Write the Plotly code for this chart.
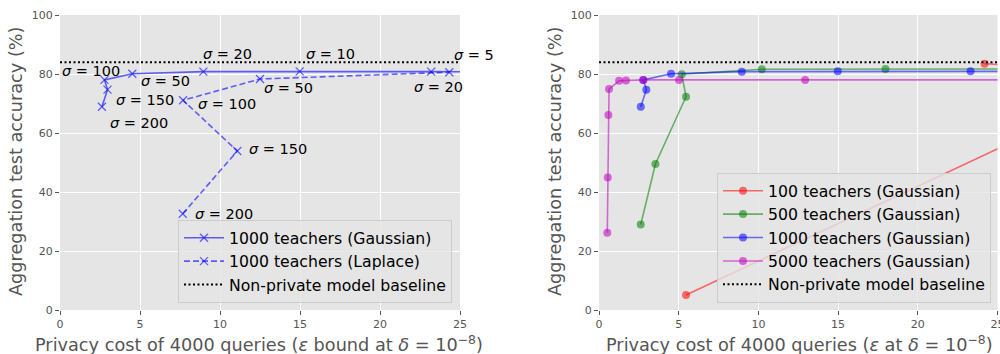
import plotly.graph_objects as go

# ---------------- data ----------------
# Left panel: 1000 teachers, Gaussian vs Laplace
gauss_eps = [2.62, 2.97, 2.78, 4.52, 8.96, 14.98, 23.2, 30.0]
gauss_acc = [68.9, 74.7, 78.0, 80.1, 80.8, 80.9, 80.8, 80.7]
gauss_sigma = ["200", "150", "100", "50", "20", "10", "5", None]

lap_eps = [7.67, 11.08, 7.69, 12.5, 24.33]
lap_acc = [32.6, 53.9, 71.1, 78.3, 80.6]
lap_sigma = ["200", "150", "100", "50", "20"]

baseline_acc = 84.0

# Right panel: different numbers of teachers (Gaussian)
t100_eps = [5.46, 35.0, 24.19]
t100_acc = [5.1, 80.0, 83.5]
t500_eps = [2.62, 3.54, 5.46, 5.19, 10.21, 17.97, 30.0]
t500_acc = [29.0, 49.5, 72.3, 79.9, 81.6, 81.7, 81.7]
t1000_eps = [2.62, 2.97, 2.78, 4.52, 8.96, 14.98, 23.31, 30.0]
t1000_acc = [68.9, 74.7, 78.0, 80.1, 80.8, 80.9, 80.9, 80.9]
t5000_eps = [0.52, 0.55, 0.59, 0.63, 1.26, 1.69, 2.78, 5.02, 12.93, 30.0]
t5000_acc = [26.2, 44.9, 66.1, 74.9, 77.7, 77.8, 78.0, 78.0, 78.0, 78.0]

x_ticks = [0, 5, 10, 15, 20, 25]
y_ticks = [0, 20, 40, 60, 80, 100]

# ---------------- styling ----------------
W, H = 1000, 354
FONT = "DejaVu Sans"
GRAY = "#555555"
BG = "#E5E5E5"
BLUE = "rgba(0,0,255,0.6)"

# label pixel offsets (dx right, dy down) relative to point
gauss_off = [(6, 16), (6.5, 10), (-44.5, -9), (6.4, 7.6), (-2.4, -18), (4.3, -17.3), (20.5, -17)]
lap_off = [(10.6, 0), (9.4, -2), (13, 4), (1.7, 9.3), (-37.6, 14.4)]

ydom = [1 - 310 / H, 1 - 15 / H]
xdom1 = [60 / W, 460 / W]
xdom2 = [599 / W, 997.5 / W]

fig = go.Figure()

xmark = dict(symbol="x-thin", size=8, color=BLUE, line=dict(width=1.3, color=BLUE))

fig.add_trace(go.Scatter(x=gauss_eps, y=gauss_acc, mode="lines+markers",
                         name="1000 teachers (Gaussian)",
                         line=dict(color=BLUE, width=1.6), marker=xmark,
                         xaxis="x", yaxis="y", legend="legend", cliponaxis=True))
fig.add_trace(go.Scatter(x=lap_eps, y=lap_acc, mode="lines+markers",
                         name="1000 teachers (Laplace)",
                         line=dict(color=BLUE, width=1.6, dash="6px,3px"), marker=xmark,
                         xaxis="x", yaxis="y", legend="legend", cliponaxis=True))
fig.add_trace(go.Scatter(x=x_ticks[:1] + x_ticks[-1:], y=[baseline_acc, baseline_acc], mode="lines",
                         name="Non-private model baseline",
                         line=dict(color="black", width=2, dash="2px,2.5px"),
                         xaxis="x", yaxis="y", legend="legend"))

series = [
    ("100 teachers (Gaussian)", t100_eps, t100_acc, "rgba(255,0,0,0.55)"),
    ("500 teachers (Gaussian)", t500_eps, t500_acc, "rgba(0,128,0,0.55)"),
    ("1000 teachers (Gaussian)", t1000_eps, t1000_acc, "rgba(0,0,255,0.55)"),
    ("5000 teachers (Gaussian)", t5000_eps, t5000_acc, "rgba(191,0,191,0.55)"),
]
for name, xs, ys, col in series:
    fig.add_trace(go.Scatter(x=xs, y=ys, mode="lines+markers", name=name,
                             line=dict(color=col, width=1.6),
                             marker=dict(symbol="circle", size=8, color=col),
                             xaxis="x2", yaxis="y2", legend="legend2", cliponaxis=True))
fig.add_trace(go.Scatter(x=x_ticks[:1] + x_ticks[-1:], y=[baseline_acc, baseline_acc], mode="lines",
                         name="Non-private model baseline",
                         line=dict(color="black", width=2, dash="2px,2.5px"),
                         xaxis="x2", yaxis="y2", legend="legend2"))

# sigma labels
annotations = []
for xs, ys, labs, offs in [(gauss_eps, gauss_acc, gauss_sigma, gauss_off),
                           (lap_eps, lap_acc, lap_sigma, lap_off)]:
    for xv, yv, lab, off in zip(xs, ys, labs, offs):
        if lab is None:
            continue
        annotations.append(dict(x=xv, y=yv, xref="x", yref="y", text="<i>σ</i> = " + lab,
                                showarrow=False, xanchor="left", yanchor="middle",
                                xshift=off[0], yshift=-off[1],
                                font=dict(family=FONT, size=14.5, color="black")))

# axis titles as annotations
xt = "Privacy cost of 4000 queries (<i>ε</i> {}at <i>δ</i> = 10<sup>−8</sup>)"
annotations.append(dict(x=259 / W, y=1 - 343 / H, xref="paper", yref="paper",
                        text=xt.format("bound "), showarrow=False,
                        xanchor="center", yanchor="middle",
                        font=dict(family=FONT, size=17.7, color=GRAY)))
annotations.append(dict(x=799 / W, y=1 - 343 / H, xref="paper", yref="paper",
                        text=xt.format(""), showarrow=False,
                        xanchor="center", yanchor="middle",
                        font=dict(family=FONT, size=17.7, color=GRAY)))
for cx in (16, 555):
    annotations.append(dict(x=cx / W, y=1 - 161 / H, xref="paper", yref="paper",
                            text="Aggregation test accuracy (%)", showarrow=False,
                            textangle=-90, xanchor="center", yanchor="middle",
                            font=dict(family=FONT, size=17.7, color=GRAY)))

ax_common = dict(showgrid=True, gridcolor="white", gridwidth=1, zeroline=False,
                 showline=False, ticks="outside", ticklen=4, tickwidth=1, tickcolor=GRAY,
                 tickfont=dict(family=FONT, size=11, color=GRAY), fixedrange=True,
                 automargin=False, ticklabeloverflow="allow")

legend_common = dict(bgcolor="rgba(229,229,229,0.8)", bordercolor="#cccccc", borderwidth=1,
                     font=dict(family=FONT, size=15.7, color="black"),
                     itemwidth=40, xanchor="right", yanchor="bottom", orientation="v")

fig.update_layout(
    width=W, height=H,
    autosize=False,
    margin=dict(l=0, r=0, t=0, b=0, pad=0, autoexpand=False),
    paper_bgcolor="white", plot_bgcolor=BG,
    font=dict(family=FONT),
    xaxis=dict(domain=xdom1, range=[0, 25], tickvals=x_ticks, anchor="y", **ax_common),
    yaxis=dict(domain=ydom, range=[0, 100], tickvals=y_ticks, anchor="x", **ax_common),
    xaxis2=dict(domain=xdom2, range=[0, 25], tickvals=x_ticks, anchor="y2", **ax_common),
    yaxis2=dict(domain=ydom, range=[0, 100], tickvals=y_ticks, anchor="x2", **ax_common),
    legend=dict(x=452 / W, y=1 - 303 / H, **legend_common),
    legend2=dict(x=991 / W, y=1 - 303 / H, **legend_common),
    annotations=annotations,
    showlegend=True,
)

fig.write_html("out.html", config={"displayModeBar": False},
               post_script="document.body.style.margin='0';document.body.style.overflow='hidden';")
